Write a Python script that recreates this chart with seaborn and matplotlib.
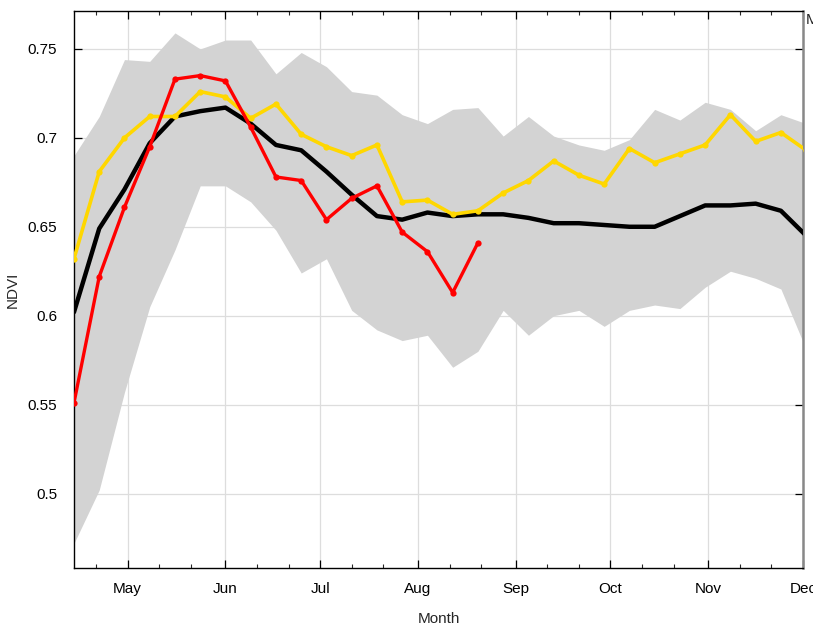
import numpy as np
import pandas as pd
import seaborn as sns
import matplotlib
matplotlib.use("Agg")
import matplotlib.pyplot as plt
from matplotlib.ticker import FixedLocator

# day of year (leap year), 8-day composites
doy = [105, 113, 121, 129, 137, 145, 153, 161, 169, 177,
       185, 193, 201, 209, 217, 225, 233, 241, 249, 257,
       265, 273, 281, 289, 297, 305, 313, 321, 329, 337]

band_upper = [0.690, 0.712, 0.744, 0.743, 0.759, 0.750, 0.755, 0.755, 0.736, 0.748,
              0.740, 0.726, 0.724, 0.713, 0.708, 0.716, 0.717, 0.701, 0.712, 0.701,
              0.696, 0.693, 0.699, 0.716, 0.710, 0.720, 0.716, 0.704, 0.713, 0.708]
band_lower = [0.472, 0.502, 0.557, 0.605, 0.637, 0.673, 0.673, 0.664, 0.648, 0.624,
              0.632, 0.603, 0.592, 0.586, 0.589, 0.571, 0.580, 0.603, 0.589, 0.600,
              0.603, 0.594, 0.603, 0.606, 0.604, 0.616, 0.625, 0.621, 0.615, 0.581]
mean_ndvi = [0.602, 0.649, 0.671, 0.697, 0.712, 0.715, 0.717, 0.708, 0.696, 0.693,
             0.681, 0.668, 0.656, 0.654, 0.658, 0.656, 0.657, 0.657, 0.655, 0.652,
             0.652, 0.651, 0.650, 0.650, 0.656, 0.662, 0.662, 0.663, 0.659, 0.645]
yellow_ndvi = [0.632, 0.681, 0.700, 0.712, 0.712, 0.726, 0.723, 0.711, 0.719, 0.702,
               0.695, 0.690, 0.696, 0.664, 0.665, 0.657, 0.659, 0.669, 0.676, 0.687,
               0.679, 0.674, 0.694, 0.686, 0.691, 0.696, 0.713, 0.698, 0.703, 0.693]
red_ndvi = [0.551, 0.622, 0.661, 0.695, 0.733, 0.735, 0.732, 0.706, 0.678, 0.676,
            0.654, 0.666, 0.673, 0.647, 0.636, 0.613, 0.641]

month_doy = [122, 153, 183, 214, 245, 275, 306, 336]
month_labels = ["May", "Jun", "Jul", "Aug", "Sep", "Oct", "Nov", "Dec"]
minor_doy = [112, 132, 142, 163, 173, 193, 203, 224, 234, 255, 265, 285, 295, 316, 326]
y_ticks = [0.5, 0.55, 0.6, 0.65, 0.7, 0.75]
y_labels = ["0.5", "0.55", "0.6", "0.65", "0.7", "0.75"]

sns.set_style("ticks")
plt.rcParams['font.family'] = ['Liberation Sans Narrow', 'Liberation Sans', 'DejaVu Sans']

df = pd.DataFrame({"doy": doy, "upper": band_upper, "lower": band_lower,
                   "mean": mean_ndvi, "yellow": yellow_ndvi})
df_red = pd.DataFrame({"doy": doy[:len(red_ndvi)], "red": red_ndvi})

fig = plt.figure(figsize=(8.13, 6.26), dpi=100)
ax = fig.add_axes([0.091, 0.0931, 0.8967, 0.889])

ax.fill_between(df["doy"], df["lower"], df["upper"], color="#d3d3d3", lw=0, zorder=1)
sns.lineplot(data=df, x="doy", y="mean", color="black", lw=3.2, ax=ax, zorder=3)
sns.lineplot(data=df, x="doy", y="yellow", color="#ffd700", lw=2.6, marker="o",
             markersize=4.5, markeredgewidth=0, ax=ax, zorder=4)
sns.lineplot(data=df_red, x="doy", y="red", color="#ff0000", lw=2.4, marker="o",
             markersize=4.5, markeredgewidth=0, ax=ax, zorder=5)

ax.set_xlim(105, 336)
ax.set_ylim(0.4583, 0.7712)
ax.set_xticks(month_doy)
ax.set_xticklabels(month_labels)
ax.xaxis.set_minor_locator(FixedLocator(minor_doy))
ax.set_yticks(y_ticks)
ax.set_yticklabels(y_labels)

ax.grid(True, which="major", color="#dddddd", lw=0.9, zorder=0)
ax.set_axisbelow(True)
ax.tick_params(axis="both", which="major", direction="in", length=6, width=0.9,
               top=True, right=True, labelsize=11, colors="black")
ax.tick_params(axis="x", which="minor", direction="in", length=3, width=0.8,
               top=True, bottom=True)
ax.tick_params(axis="x", which="major", pad=10)
ax.tick_params(axis="y", which="major", pad=12)

for s in ["left", "bottom", "top"]:
    ax.spines[s].set_color("black")
    ax.spines[s].set_linewidth(1.0)
ax.spines["right"].set_color("#888888")
ax.spines["right"].set_linewidth(1.8)

ax.set_xlabel("Month", fontsize=11, labelpad=12)
ax.set_ylabel("NDVI", fontsize=11, labelpad=6)

fig.text(806 / 813, 1 - 24 / 626, "M", fontsize=11, ha="left", va="baseline")

fig.savefig("out.png", dpi=100)
